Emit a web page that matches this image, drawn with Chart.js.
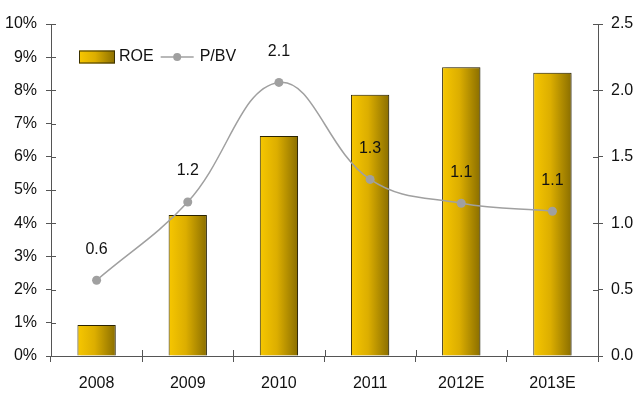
<!DOCTYPE html>
<html>
<head>
<meta charset="utf-8">
<script src="https://cdn.jsdelivr.net/npm/chart.js@4"></script>
<style>
  html, body { margin: 0; padding: 0; background: #fff; }
  #wrap { width: 635px; height: 394px; }
</style>
</head>
<body>
<div id="wrap"><canvas id="grafico"></canvas></div>
<script>
const anos = ["2008", "2009", "2010", "2011", "2012E", "2013E"];
const roe = [0.93, 4.25, 6.63, 7.87, 8.7, 8.53];
const pbv = [0.57, 1.16, 2.06, 1.33, 1.15, 1.09];
const rotulosPbv = ["0.6", "1.2", "2.1", "1.3", "1.1", "1.1"];

const FONTE = "'Liberation Sans', Arial, sans-serif";
const TAM = 16;
const BAR_PCT = 0.42;

function gradienteOuro(ctx, x0, x1) {
  const g = ctx.createLinearGradient(x0, 0, x1, 0);
  g.addColorStop(0, "#f7c700");
  g.addColorStop(0.45, "#dcae00");
  g.addColorStop(1, "#8a6e00");
  return g;
}

// ticks that also cross into the plot area
const ticksInternos = {
  id: "ticksInternos",
  afterDraw(chart) {
    const ctx = chart.ctx;
    const { x, y, y2 } = chart.scales;
    ctx.save();
    ctx.strokeStyle = "#555";
    ctx.lineWidth = 1;
    ctx.beginPath();
    y.ticks.forEach((t, i) => {
      const py = Math.round(y.getPixelForTick(i)) + 0.5;
      ctx.moveTo(y.right, py); ctx.lineTo(y.right + 5, py);
    });
    y2.ticks.forEach((t, i) => {
      const py = Math.round(y2.getPixelForTick(i)) + 0.5;
      ctx.moveTo(y2.left - 5, py); ctx.lineTo(y2.left, py);
    });
    for (let i = 0; i <= anos.length; i++) {
      const px = Math.round(x.left + i * x.width / anos.length) + 0.5;
      ctx.moveTo(px, x.top - 6); ctx.lineTo(px, x.top);
    }
    ctx.stroke();
    ctx.restore();
  }
};

// value labels over the P/BV points
const rotulos = {
  id: "rotulos",
  afterDatasetsDraw(chart) {
    const ctx = chart.ctx;
    const meta = chart.getDatasetMeta(1);
    ctx.save();
    ctx.font = TAM + "px " + FONTE;
    ctx.fillStyle = "#111";
    ctx.textAlign = "center";
    ctx.textBaseline = "middle";
    meta.data.forEach((p, i) => {
      ctx.fillText(rotulosPbv[i], p.x, p.y - 31);
    });
    ctx.restore();
  }
};

// bar shadow
const sombra = {
  id: "sombra",
  beforeDatasetDraw(chart, args) {
    if (args.index !== 0) return;
    const ctx = chart.ctx;
    ctx.save();
    ctx.shadowColor = "rgba(0,0,0,0.22)";
    ctx.shadowOffsetX = 3;
    ctx.shadowOffsetY = 0;
    ctx.shadowBlur = 2;
  },
  afterDatasetDraw(chart, args) {
    if (args.index !== 0) return;
    chart.ctx.restore();
  }
};

// legend inside the plot area
const legenda = {
  id: "legenda",
  afterDraw(chart) {
    const ctx = chart.ctx;
    const area = chart.chartArea;
    const ds = chart.data.datasets;
    const cy = area.top + 33;
    let cx = area.left + 28;
    ctx.save();
    ctx.font = TAM + "px " + FONTE;
    ctx.textBaseline = "middle";
    ctx.fillStyle = gradienteOuro(ctx, cx, cx + 36);
    ctx.fillRect(cx, cy - 6.5, 36, 13);
    ctx.strokeStyle = "#3a3000";
    ctx.lineWidth = 1;
    ctx.strokeRect(cx + 0.5, cy - 6, 35, 12);
    cx += 40;
    ctx.fillStyle = "#111";
    ctx.fillText(ds[0].label, cx, cy);
    cx += ctx.measureText(ds[0].label).width + 7;
    ctx.strokeStyle = "#a0a0a0";
    ctx.lineWidth = 1.5;
    ctx.beginPath();
    ctx.moveTo(cx, cy); ctx.lineTo(cx + 33, cy);
    ctx.stroke();
    ctx.fillStyle = "#a0a0a0";
    ctx.beginPath();
    ctx.arc(cx + 16.5, cy, 4, 0, Math.PI * 2);
    ctx.fill();
    cx += 39;
    ctx.fillStyle = "#111";
    ctx.fillText(ds[1].label, cx, cy);
    ctx.restore();
  }
};

new Chart(document.getElementById("grafico"), {
  data: {
    labels: anos,
    datasets: [
      {
        type: "bar",
        label: "ROE",
        data: roe,
        yAxisID: "y",
        backgroundColor: (c) => {
          const ch = c.chart;
          const x = ch.scales.x;
          if (!x || !ch.chartArea) return "#dcae00";
          const cxp = x.getPixelForValue(c.dataIndex);
          const w = x.width / anos.length * BAR_PCT;
          return gradienteOuro(ch.ctx, cxp - w / 2, cxp + w / 2);
        },
        borderColor: "#2e2600",
        borderWidth: 1,
        categoryPercentage: 1,
        barPercentage: BAR_PCT,
        order: 1
      },
      {
        type: "line",
        label: "P/BV",
        data: pbv,
        yAxisID: "y2",
        borderColor: "#a0a0a0",
        backgroundColor: "#a0a0a0",
        borderWidth: 1.5,
        tension: 0.4,
        pointRadius: 4.5,
        pointBorderWidth: 0,
        order: 0
      }
    ]
  },
  options: {
    responsive: true,
    maintainAspectRatio: false,
    animation: false,
    layout: { padding: { top: 24, left: 0, right: 0, bottom: 0 } },
    plugins: {
      legend: { display: false },
      tooltip: { enabled: false }
    },
    scales: {
      x: {
        offset: true,
        grid: { offset: true, drawOnChartArea: false, drawTicks: true, tickLength: 6, color: "#555" },
        border: { color: "#555", width: 1 },
        ticks: { color: "#111", font: { family: FONTE, size: TAM }, padding: 12 },
        afterFit: (s) => { s.height = 38; }
      },
      y: {
        position: "left",
        min: 0, max: 10,
        grid: { drawOnChartArea: false, tickLength: 5, color: "#555" },
        border: { color: "#555", width: 1 },
        ticks: { stepSize: 1, color: "#111", font: { family: FONTE, size: TAM }, padding: 9,
          callback: (v) => v + "%" },
        afterFit: (s) => { s.width = 51; }
      },
      y2: {
        position: "right",
        min: 0, max: 2.5,
        grid: { drawOnChartArea: false, tickLength: 5, color: "#555" },
        border: { color: "#555", width: 1 },
        ticks: { stepSize: 0.5, color: "#111", font: { family: FONTE, size: TAM }, padding: 8,
          callback: (v) => v.toFixed(1) },
        afterFit: (s) => { s.width = 37; }
      }
    }
  },
  plugins: [ticksInternos, rotulos, sombra, legenda]
});
</script>
</body>
</html>
